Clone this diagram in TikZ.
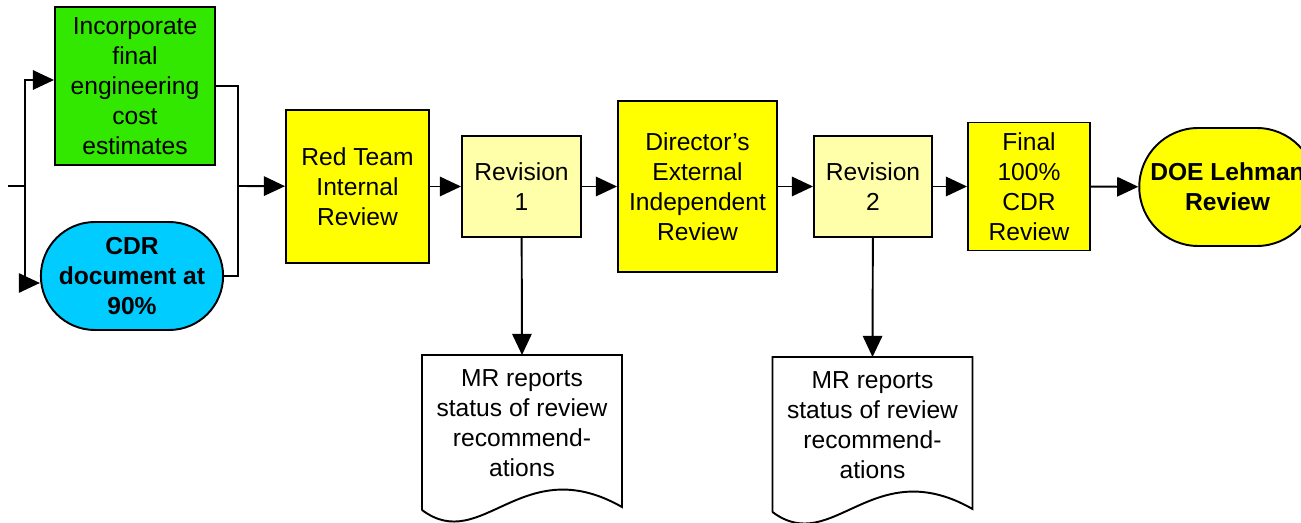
\documentclass[tikz,border=0pt]{standalone}
\usepackage{fontspec}
\setmainfont{Liberation Sans}
\usepackage{tikz}
\definecolor{costgreen}{RGB}{51,232,0}
\definecolor{cdrblue}{RGB}{0,204,255}
\definecolor{revyellow}{RGB}{255,255,0}
\definecolor{paleyellow}{RGB}{255,255,170}
\usetikzlibrary{shapes.misc, arrows.meta}

\tikzset{
  stepbox/.style = {draw, line width=1.1pt, align=center, inner sep=1pt, fill=revyellow},
  endbox/.style = {draw, line width=1.1pt, rounded rectangle, align=center, inner sep=1pt, font=\fontsize{14}{17}\selectfont\bfseries},
  docbox/.style = {align=center, inner sep=0pt},
  docline/.style = {line width=1.1pt},
  arr/.style = {line width=1.1pt, -{Triangle[length=12pt,width=11pt]}},
  wire/.style = {line width=1.1pt}
}

\begin{document}
\begin{tikzpicture}[font=\fontsize{14}{17}\selectfont]
			\useasboundingbox (0,0) rectangle (26.02,-10.46);
			
			\node[stepbox, fill = costgreen, minimum width = 3.2cm, minimum height = 3.16cm, xshift = 2.7cm, yshift = -1.72cm] (cost){Incorporate\\final\\engineering\\cost\\estimates};
			\node[endbox, fill = cdrblue, minimum width = 3.6cm, minimum height = 2.16cm, xshift = 2.64cm, yshift = -5.52cm] (cdr){CDR\\document at\\90\%};
			
			\node[stepbox, minimum width = 2.86cm, minimum height = 3.06cm, xshift = 7.15cm, yshift = -3.73cm] (redteam){Red Team\\Internal\\Review};
			\node[stepbox, fill = paleyellow, minimum width = 2.38cm, minimum height = 2.02cm, xshift = 10.43cm, yshift = -3.73cm] (rev1){Revision\\1};
			\node[stepbox, minimum width = 3.18cm, minimum height = 3.42cm, xshift = 13.95cm, yshift = -3.73cm] (director){Director’s\\External\\Independent\\Review};
			\node[stepbox, fill = paleyellow, minimum width = 2.36cm, minimum height = 2.02cm, xshift = 17.46cm, yshift = -3.73cm] (rev2){Revision\\2};
			\node[stepbox, minimum width = 2.44cm, minimum height = 2.56cm, xshift = 20.58cm, yshift = -3.73cm] (final){Final\\100\%\\CDR\\Review};
			\node[endbox, fill = revyellow, minimum width = 3.6cm, minimum height = 2.36cm, xshift = 24.55cm, yshift = -3.74cm] (doe){DOE Lehman\\Review};
			
			\node[docbox, xshift = 10.44cm, yshift = -8.46cm] (doc1){MR reports\\status of review\\recommend-\\ations};
			\node[docbox, xshift = 17.45cm, yshift = -8.5cm] (doc2){MR reports\\status of review\\recommend-\\ations};
			
			% document outlines with wavy bottom
			\draw[docline] ([shift={(-2,-1.74)}]doc1.center) -- ([shift={(-2,1.36)}]doc1.center) -- ([shift={(2,1.36)}]doc1.center) -- ([shift={(2,-1.68)}]doc1.center) .. controls +(-2.0,1.14) and +(1.2,-0.9) .. ([shift={(-2,-1.74)}]doc1.center);
			\draw[docline] ([shift={(-2,-1.74)}]doc2.center) -- ([shift={(-2,1.36)}]doc2.center) -- ([shift={(2,1.36)}]doc2.center) -- ([shift={(2,-1.68)}]doc2.center) .. controls +(-2.0,1.14) and +(1.2,-0.9) .. ([shift={(-2,-1.74)}]doc2.center);
			
			% split and join
			\coordinate (in) at (0.16,-3.72);
			\coordinate (split) at (0.5,-3.72);
			\coordinate (join) at (4.76,-3.72);
			\coordinate (doc1top) at ([yshift=1.36cm]doc1.center);
			\coordinate (doc2top) at ([yshift=1.36cm]doc2.center);
			\draw[wire] (in) -- (split);
			\draw[arr] (split) |- ([yshift=0.12cm]cost.west);
			\draw[arr] (split) |- ([yshift=-0.14cm]cdr.west);
			\draw[wire] (cost.east) -| (join);
			\draw[wire] (cdr.east) -| (join);
			\draw[arr] (join) -- (redteam);
			
			\draw[arr] (redteam) -- (rev1);
			\draw[arr] (rev1) -- (director);
			\draw[arr] (director) -- (rev2);
			\draw[arr] (rev2) -- (final);
			\draw[arr] (final) -- (doe);
			\draw[arr] (rev1) -- (doc1top);
			\draw[arr] (rev2) -- (doc2top);
			
			\end{tikzpicture}
\end{document}
